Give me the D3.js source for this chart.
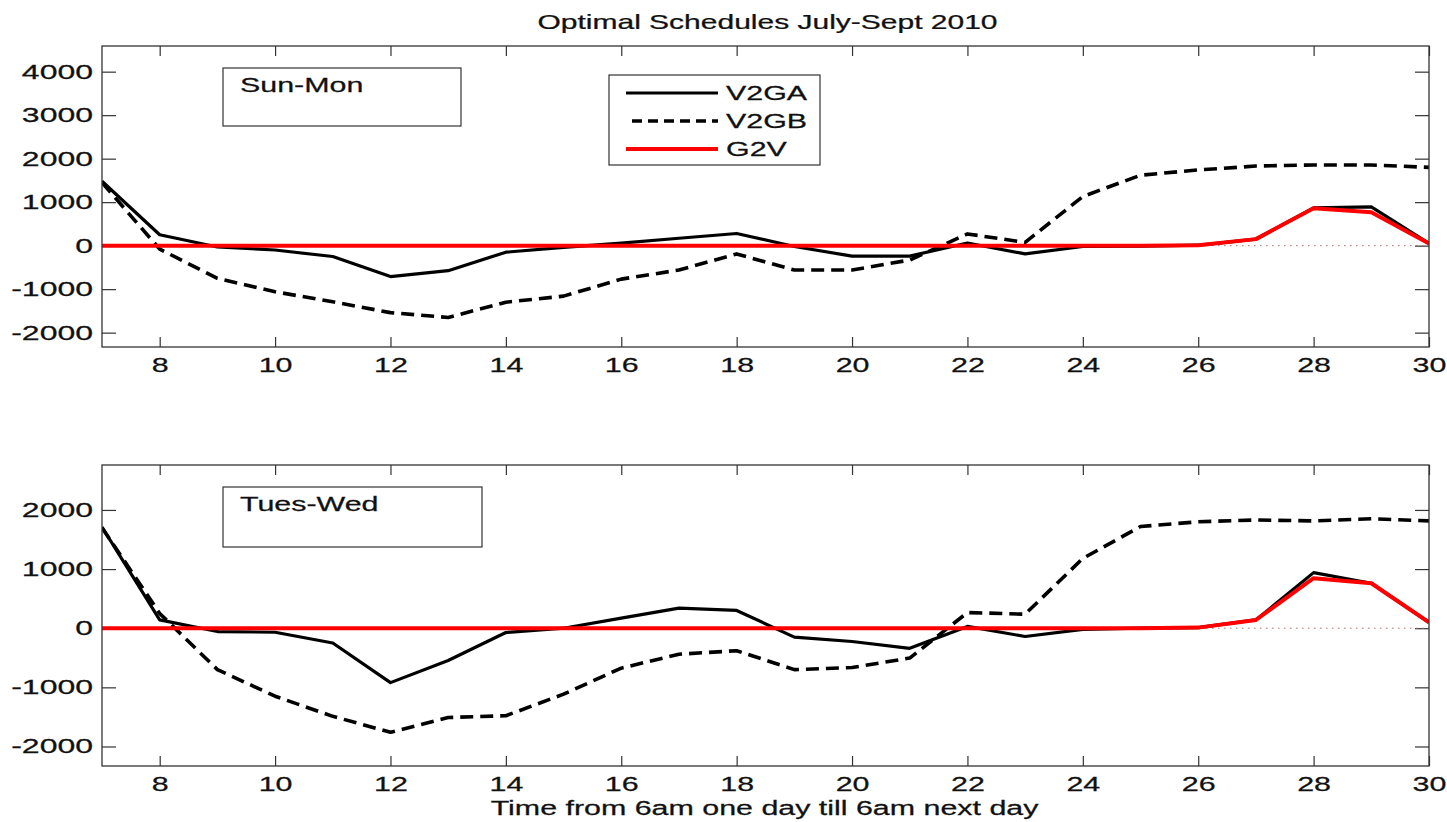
<!DOCTYPE html>
<html>
<head>
<meta charset="utf-8">
<script src="https://cdn.jsdelivr.net/npm/d3@7"></script>
<style>
  html, body { margin: 0; padding: 0; background: #fff; }
  svg { display: block; }
  text { font-family: "Liberation Sans", Arial, sans-serif; fill: #111; stroke: #111; stroke-width: 0.25; }
</style>
</head>
<body>
<svg id="chart" width="1447" height="822"></svg>
<script>
// ---------- data ----------
const hours = [7,8,9,10,11,12,13,14,15,16,17,18,19,20,21,22,23,24,25,26,27,28,29,30];
const xTicks = [8,10,12,14,16,18,20,22,24,26,28,30];

const sunMonV2GA = [1480, 250, -30, -100, -250, -710, -575, -150, -40, 60, 170, 280, -20, -240, -240, 60, -190, -20, -10, 10, 150, 870, 890, 50];
const sunMonV2GB = [1450, -80, -750, -1060, -1290, -1540, -1650, -1300, -1160, -770, -560, -190, -560, -560, -330, 270, 75, 1130, 1620, 1740, 1830, 1855, 1855, 1800];
const sunMonG2V  = [0, 0, 0, 0, 0, 0, 0, 0, 0, 0, 0, 0, 0, 0, 0, 0, 0, 0, 0, 10, 150, 860, 770, 50];

const tuesWedV2GA = [1710, 140, -56, -68, -250, -920, -545, -73, 0, 170, 340, 300, -150, -225, -340, 30, -140, -20, 0, 10, 140, 940, 760, 100];
const tuesWedV2GB = [1700, 250, -700, -1150, -1490, -1760, -1510, -1480, -1115, -675, -440, -380, -700, -665, -505, 265, 237, 1180, 1720, 1800, 1830, 1815, 1850, 1815];
const tuesWedG2V  = [0, 0, 0, 0, 0, 0, 0, 0, 0, 0, 0, 0, 0, 0, 0, 0, 0, 0, 0, 10, 140, 845, 760, 100];

const sunMonYTicks  = [-2000, -1000, 0, 1000, 2000, 3000, 4000];
const tuesWedYTicks = [-2000, -1000, 0, 1000, 2000];

const seriesNames = ["V2GA", "V2GB", "G2V"];
const titleText = "Optimal Schedules July-Sept 2010";
const xLabelText = "Time from 6am one day till 6am next day";

// ---------- layout ----------
const SX = 1.52;         // horizontal text stretch of the original
const SY_LAB = 1.6;      // stretch of y tick labels
const FS = 20;           // base font size
const svg = d3.select("#chart");
const left = 102, right = 1429;

const panels = [
  { name: "Sun-Mon",  top: 46,  bottom: 347, domain: [-2330, 4590], yTicks: sunMonYTicks,
    v2ga: sunMonV2GA, v2gb: sunMonV2GB, g2v: sunMonG2V,
    box: { x: 223, y: 68, w: 238, h: 58 }, legend: true },
  { name: "Tues-Wed", top: 465, bottom: 766, domain: [-2330, 2760], yTicks: tuesWedYTicks,
    v2ga: tuesWedV2GA, v2gb: tuesWedV2GB, g2v: tuesWedG2V,
    box: { x: 223, y: 487, w: 259, h: 60 }, legend: false }
];

const x = d3.scaleLinear().domain([7, 30]).range([left, right]);

function stretchedText(g, tx, ty, str, size, anchor, sx) {
  const t = g.append("g").attr("transform", `translate(${tx},${ty})`)
    .append("text")
    .attr("transform", `scale(${sx || SX},1)`)
    .attr("font-size", size)
    .attr("text-anchor", anchor || "start")
    .text(str);
  return t;
}

// title
stretchedText(svg, (left + right) / 2 + 2, 29, titleText, 20, "middle", 1.5);

panels.forEach((p, i) => {
  const y = d3.scaleLinear().domain(p.domain).range([p.bottom, p.top]);
  const g = svg.append("g");
  const clipId = "clip" + i;
  svg.append("clipPath").attr("id", clipId)
    .append("rect").attr("x", left).attr("y", p.top)
    .attr("width", right - left).attr("height", p.bottom - p.top);

  // axes (inward ticks)
  const axL = g.append("g").attr("transform", `translate(${left},0)`)
    .call(d3.axisLeft(y).tickValues(p.yTicks).tickSizeInner(-14).tickSizeOuter(0).tickPadding(9).tickFormat(d => String(d)));
  const axR = g.append("g").attr("transform", `translate(${right},0)`)
    .call(d3.axisRight(y).tickValues(p.yTicks).tickSizeInner(-14).tickSizeOuter(0).tickFormat(""));
  const axB = g.append("g").attr("transform", `translate(0,${p.bottom})`)
    .call(d3.axisBottom(x).tickValues(xTicks).tickSizeInner(-10).tickSizeOuter(0).tickPadding(11));
  const axT = g.append("g").attr("transform", `translate(0,${p.top})`)
    .call(d3.axisTop(x).tickValues(xTicks).tickSizeInner(-10).tickSizeOuter(0).tickFormat(""));
  [axL, axR, axB, axT].forEach(a => {
    a.select(".domain").remove();
    a.selectAll("line").attr("stroke", "#333").attr("stroke-width", 1.2);
    a.selectAll("text").attr("font-size", FS).attr("fill", "#111")
      .attr("font-family", "Liberation Sans, Arial, sans-serif");
  });
  axL.selectAll("text").attr("x", -9 / SY_LAB).attr("transform", `scale(${SY_LAB},1)`);
  axB.selectAll("text").attr("transform", `scale(${SX},1)`);

  // zero dotted line
  const plot = g.append("g").attr("clip-path", `url(#${clipId})`);
  plot.append("line")
    .attr("x1", x(7)).attr("x2", x(30)).attr("y1", y(0)).attr("y2", y(0))
    .attr("stroke", "#b07070").attr("stroke-width", 1).attr("stroke-dasharray", "1.5,4.5");

  const line = d3.line().x((d, j) => x(hours[j])).y(d => y(d));
  plot.append("path").datum(p.v2gb).attr("d", line)
    .attr("fill", "none").attr("stroke", "#000").attr("stroke-width", 3.6)
    .attr("stroke-dasharray", "13,7").attr("stroke-linejoin", "round");
  plot.append("path").datum(p.v2ga).attr("d", line)
    .attr("fill", "none").attr("stroke", "#000").attr("stroke-width", 3.2)
    .attr("stroke-linejoin", "round");
  plot.append("path").datum(p.g2v).attr("d", line)
    .attr("fill", "none").attr("stroke", "#f00").attr("stroke-width", 4)
    .attr("stroke-linejoin", "round");

  // frame
  g.append("rect").attr("x", left).attr("y", p.top)
    .attr("width", right - left).attr("height", p.bottom - p.top)
    .attr("fill", "none").attr("stroke", "#333").attr("stroke-width", 1.3);

  // panel label box
  g.append("rect").attr("x", p.box.x).attr("y", p.box.y)
    .attr("width", p.box.w).attr("height", p.box.h)
    .attr("fill", "#fff").attr("stroke", "#333").attr("stroke-width", 1.2);
  stretchedText(g, p.box.x + 17, p.box.y + 24, p.name, FS, "start");

  if (p.legend) {
    const lg = g.append("g");
    lg.append("rect").attr("x", 609).attr("y", 75).attr("width", 211).attr("height", 90)
      .attr("fill", "#fff").attr("stroke", "#333").attr("stroke-width", 1.2);
    const styles = [
      { stroke: "#000", w: 3.2, dash: null },
      { stroke: "#000", w: 3.6, dash: "10,6" },
      { stroke: "#f00", w: 4, dash: null }
    ];
    const rowY = [93, 121, 149];
    seriesNames.forEach((n, k) => {
      const l = lg.append("line").attr("x1", 626).attr("x2", 718)
        .attr("y1", rowY[k]).attr("y2", rowY[k])
        .attr("stroke", styles[k].stroke).attr("stroke-width", styles[k].w);
      if (styles[k].dash) l.attr("stroke-dasharray", styles[k].dash).attr("stroke-dashoffset", -6);
      stretchedText(lg, 726, rowY[k] + 7, n, FS, "start");
    });
  }
});

// x-axis label
stretchedText(svg, (left + right) / 2 - 1, 815, xLabelText, FS, "middle");
</script>
</body>
</html>
